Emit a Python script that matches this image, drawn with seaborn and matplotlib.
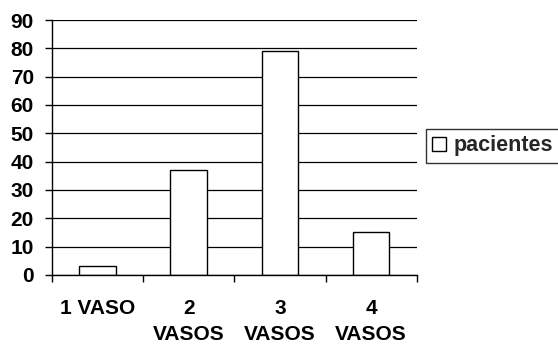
import matplotlib
matplotlib.use("Agg")
import matplotlib.pyplot as plt
import seaborn as sns
import pandas as pd

categories = ["1 VASO", "2\nVASOS", "3\nVASOS", "4\nVASOS"]
pacientes = [3, 37, 79, 15]
yticks = [0, 10, 20, 30, 40, 50, 60, 70, 80, 90]

sns.set_theme(style="white")
plt.rcParams['font.family'] = ['Liberation Sans', 'DejaVu Sans']
plt.rcParams['font.weight'] = 'bold'

df = pd.DataFrame({"cat": categories, "val": pacientes})

fig = plt.figure(figsize=(5.58, 3.48), dpi=100)
ax = fig.add_axes([0.093, 0.21, 0.654, 0.7325])

for y in yticks:
    ax.axhline(y, color="black", lw=0.9, zorder=0)

sns.barplot(data=df, x="cat", y="val", color="white", edgecolor="black",
            linewidth=1.0, width=0.4, saturation=1, ax=ax, label="pacientes",
            zorder=2)

ax.set_xlim(-0.5, 3.5)
ax.set_ylim(0, 90)
ax.set_yticks(yticks)
ax.set_yticklabels([str(v) for v in yticks], fontsize=15, fontweight="bold", color="black")
ax.tick_params(axis="y", length=5, width=1, color="black", direction="out", left=True, pad=8)

ax.set_xticks([-0.5, 0.5, 1.5, 2.5, 3.5])
ax.set_xticklabels([])
ax.tick_params(axis="x", which="major", length=5, width=1, color="black", direction="out", bottom=True)
ax.set_xticks([0, 1, 2, 3], minor=True)
ax.set_xticklabels(categories, minor=True, fontsize=15, fontweight="bold", color="black", linespacing=1.45)
ax.tick_params(axis="x", which="minor", length=0, pad=17.5)

ax.set_xlabel("")
ax.set_ylabel("")
for s in ["top", "right"]:
    ax.spines[s].set_visible(False)
for s in ["left", "bottom"]:
    ax.spines[s].set_color("black")
    ax.spines[s].set_linewidth(1.0)

leg = ax.legend(loc="center left", bbox_to_anchor=(1.025, 0.506), frameon=True,
                fancybox=False, edgecolor="black", prop={"size": 15.5, "weight": "bold"},
                handlelength=0.63, handleheight=0.63, handletextpad=0.35,
                borderpad=0.3, borderaxespad=0)
leg.get_frame().set_linewidth(1.0)

fig.savefig("out.png", dpi=100, facecolor="white")
